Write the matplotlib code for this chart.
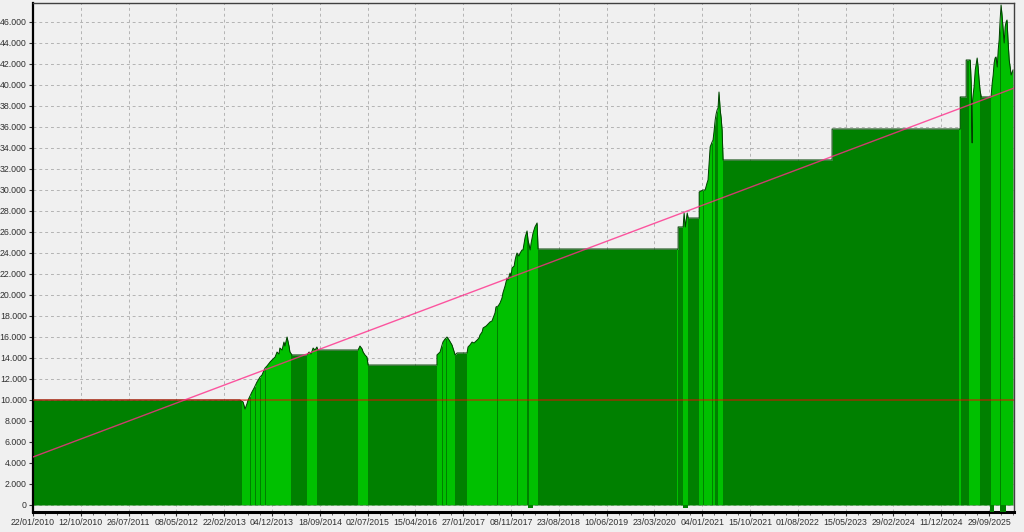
import matplotlib
matplotlib.use("Agg")
import matplotlib.pyplot as plt
from matplotlib.patches import Polygon
from matplotlib.ticker import MultipleLocator, FuncFormatter
import numpy as np

# ---------- data ----------
# x = bar index (200 bars between date labels), y = equity
curve_x = [0, 866, 879, 887, 895, 900, 908, 916, 925, 937, 950, 958, 971, 979, 992,
           1000, 1013, 1021, 1029, 1033, 1042, 1050, 1054, 1063, 1071, 1075, 1084,
           1146, 1155, 1163, 1172, 1180, 1188, 1192, 1360, 1368, 1377, 1381, 1389,
           1397, 1402, 1690, 1690, 1703, 1715, 1724, 1732, 1741, 1753, 1761, 1766,
           1774, 1816, 1820, 1828, 1837, 1845, 1858, 1866, 1870, 1879, 1883, 1896,
           1904, 1912, 1920, 1925, 1933, 1937, 1946, 1954, 1962, 1966, 1975, 1983,
           1987, 1996, 2000, 2004, 2013, 2017, 2021, 2025, 2033, 2038, 2046, 2050,
           2054, 2059, 2067, 2071, 2080, 2084, 2092, 2100, 2109, 2113, 2699, 2699,
           2720, 2724, 2729, 2733, 2737, 2741, 2787, 2787, 2803, 2812, 2820, 2824,
           2828, 2833, 2841, 2845, 2849, 2854, 2858, 2862, 2866, 2870, 2875, 2879,
           2883, 2887, 3343, 3343, 3879, 3879, 3904, 3904, 3921, 3925, 3929, 3929,
           3933, 3937, 3942, 3946, 3950, 3954, 3958, 3962, 3967, 4008, 4013, 4017,
           4021, 4025, 4029, 4034, 4038, 4042, 4046, 4050, 4054, 4059, 4063, 4067,
           4071, 4075, 4079, 4084, 4088, 4092, 4100]
curve_y = [10000, 10000, 9810, 9140, 9620, 10000, 10380, 10760, 11140, 11710, 12190,
           12380, 13050, 13240, 13620, 13810, 14100, 14570, 14380, 14950, 14760, 15520,
           15140, 16000, 15140, 14570, 14290, 14290, 14570, 14380, 14950, 14760, 15050,
           14760, 14760, 15140, 14860, 14570, 14290, 14100, 13330, 13330, 14290, 14570,
           15520, 15810, 16000, 15710, 15240, 14670, 14290, 14480, 14480, 15050, 15240,
           15520, 15430, 15710, 15900, 16190, 16480, 16860, 17050, 17240, 17430, 17520,
           17810, 18290, 18860, 18950, 19240, 19710, 20190, 20860, 21620, 21430, 22100,
           21710, 22570, 22760, 23330, 23710, 24000, 23710, 24000, 24290, 24290, 24860,
           25520, 26100, 25240, 24290, 24950, 25900, 26480, 26860, 24380, 24380, 26480,
           26480, 27810, 26480, 27140, 27810, 27330, 27330, 29810, 30000, 30000, 30670,
           30950, 32380, 34100, 34570, 34760, 35520, 36670, 37240, 37620, 37810, 39330,
           37620, 36860, 35710, 32860, 32860, 35810, 35810, 38860, 38860, 42380, 42380,
           40190, 34480, 38100, 39050, 39810, 41430, 42000, 42570, 41710, 40480, 39520,
           38860, 38860, 40190, 40950, 42100, 42570, 42670, 41710, 43330, 44290, 46190,
           47620, 46670, 45240, 44000, 45520, 46000, 46190, 44290, 42380, 41710, 40950,
           41430]

# bar ranges where a position is open (bright green)
band_start = [874, 912, 933, 952, 973, 1146, 1360, 1690, 1715, 1732, 1816, 1946, 2031,
              2075, 2695, 2720, 2787, 2806, 2845, 2866, 3874, 3916, 4008, 4050]
band_end = [908, 929, 948, 969, 1079, 1188, 1402, 1711, 1728, 1766, 1941, 2025, 2067,
            2113, 2699, 2741, 2803, 2841, 2854, 2887, 3883, 3962, 4046, 4104]

# small bars under zero
neg_start = [2071, 2720, 4004, 4046]
neg_end = [2092, 2741, 4021, 4071]
neg_val = [-290, -290, -620, -620]

initial_equity = 10000
trend_start, trend_end = 4570, 39700

date_labels = ["22/01/2010", "12/10/2010", "26/07/2011", "08/05/2012", "22/02/2013",
               "04/12/2013", "18/09/2014", "02/07/2015", "15/04/2016", "27/01/2017",
               "08/11/2017", "23/08/2018", "10/06/2019", "23/03/2020", "04/01/2021",
               "15/10/2021", "01/08/2022", "15/05/2023", "29/02/2024", "11/12/2024",
               "29/09/2025"]
# ------------------------------------------------

BG = "#f0f0f0"
DARK = "#008000"
BRIGHT = "#00c000"
X_MAX = 4104

fig = plt.figure(figsize=(10.24, 5.32), dpi=100, facecolor=BG)
ax = fig.add_axes([0.0322, 0.0376, 0.9580, 0.9568])
ax.set_facecolor(BG)
ax.set_axisbelow(True)

# equity area
ax.fill_between(curve_x, curve_y, 0, color=DARK, lw=0, zorder=2)
clip = Polygon(np.column_stack([[curve_x[0]] + curve_x + [curve_x[-1]],
                                [0] + curve_y + [0]]),
               closed=True, fill=False, lw=0, transform=ax.transData)
ax.add_patch(clip)
for a, b in zip(band_start, band_end):
    span = ax.axvspan(a, b, color=BRIGHT, lw=0, zorder=3)
    span.set_clip_path(clip)
for a, b, v in zip(neg_start, neg_end, neg_val):
    ax.bar(a, v, width=b - a, align="edge", color=DARK, lw=0, zorder=3)
ax.plot(curve_x, curve_y, color="#004000", lw=0.7, zorder=4)

# initial equity + trend line
ax.axhline(initial_equity, color="red", alpha=0.5, lw=1.3, zorder=5)
ax.plot([0, X_MAX], [trend_start, trend_end], color="#ff2d8a", alpha=0.8, lw=1.0, zorder=5)

ax.set_xlim(0, X_MAX)
ax.set_ylim(-667, 47810)

ax.set_xticks(np.arange(len(date_labels)) * 200)
ax.set_xticklabels(date_labels)
ax.xaxis.set_minor_locator(MultipleLocator(50))
ax.yaxis.set_major_locator(MultipleLocator(2000))
ax.yaxis.set_major_formatter(FuncFormatter(lambda v, p: f"{int(v):,}".replace(",", ".")))

ax.grid(True, which="major", color="#b4b4b4", ls=(0, (3, 3)), lw=0.7)
ax.tick_params(axis="both", labelsize=6.3, labelcolor="#303030", color="#303030",
               length=3, width=0.8, pad=1.5)
ax.tick_params(axis="x", which="minor", length=2, width=0.6, color="#505050")
for lab in ax.get_xticklabels() + ax.get_yticklabels():
    lab.set_family("Liberation Sans")

ax.spines["left"].set_linewidth(1.6)
ax.spines["bottom"].set_linewidth(2.2)
ax.spines["left"].set_color("black")
ax.spines["bottom"].set_color("black")
ax.spines["top"].set_color("#404040")
ax.spines["right"].set_color("#404040")
ax.spines["top"].set_linewidth(1.0)
ax.spines["right"].set_linewidth(1.0)

fig.savefig("out.png", dpi=100, facecolor=BG)
